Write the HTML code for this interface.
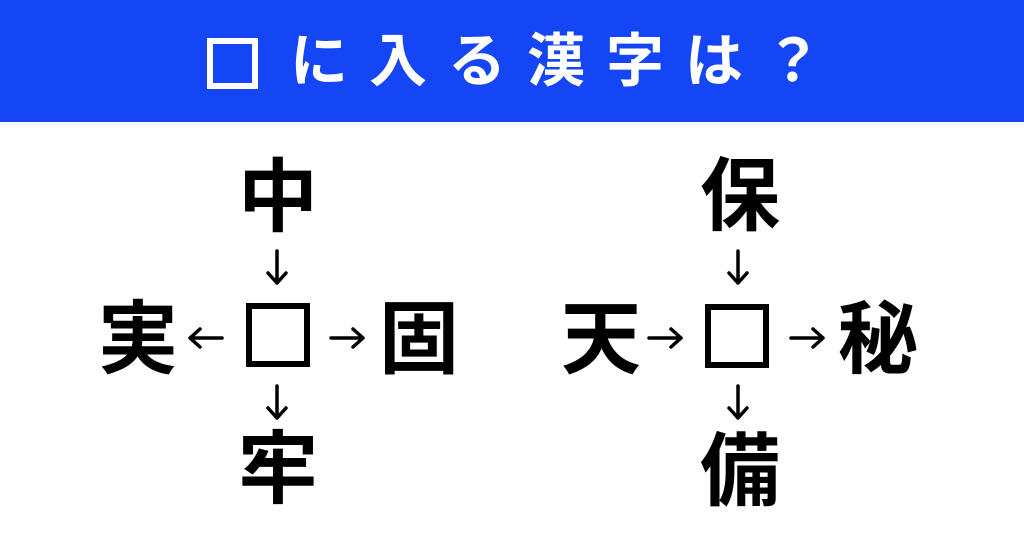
<!DOCTYPE html>
<html><head><meta charset="utf-8"><style>
body{margin:0;width:1024px;height:538px;background:#fff;position:relative;overflow:hidden;font-family:"Liberation Sans","Noto Sans CJK JP",sans-serif}
.hd{position:absolute;left:0;top:0;width:1024px;height:122px;background:#1446f5}
.tb{position:absolute;left:207px;top:38px;width:39px;height:39px;border:6px solid #fff}
.t{position:absolute;left:290px;top:62px;white-space:nowrap;color:#fff;font-size:58px;font-weight:700;letter-spacing:21px;line-height:1;transform:translateY(-50%)}
.c{position:absolute;font-size:80px;font-weight:700;line-height:1;width:100px;height:80px;text-align:center;transform:translate(-50%,-50%)}
.sq{position:absolute;width:52px;height:52px;border:6px solid #000}
svg{position:absolute;left:0;top:0}
</style></head><body>
<div class="hd"></div>
<div class="tb"></div>
<div class="t">に入る漢字は？</div>
<div class="c" style="left:278px;top:198px">中</div>
<div class="c" style="left:138px;top:340px">実</div>
<div class="c" style="left:419px;top:340px">固</div>
<div class="c" style="left:278px;top:470px">牢</div>
<div class="sq" style="left:246px;top:303px"></div>
<div class="c" style="left:740px;top:197px">保</div>
<div class="c" style="left:601px;top:340px">天</div>
<div class="c" style="left:878px;top:340px">秘</div>
<div class="c" style="left:740px;top:472px">備</div>
<div class="sq" style="left:705px;top:304px"></div>
<svg width="1024" height="538" fill="none" stroke="#000" stroke-width="3.5" stroke-linecap="round" stroke-linejoin="round">
<path d="M277 251V283M268 273L277 283L286 273"/>
<path d="M277 386V418M268 408L277 418L286 408"/>
<path d="M222 338H190M200 329L190 338L200 347"/>
<path d="M331 338H363M353 329L363 338L353 347"/>
<path d="M738 251V283M729 273L738 283L747 273"/>
<path d="M738 386V418M729 408L738 418L747 408"/>
<path d="M649 338H681M671 329L681 338L671 347"/>
<path d="M791 338H823M813 329L823 338L813 347"/>
</svg>
</body></html>
